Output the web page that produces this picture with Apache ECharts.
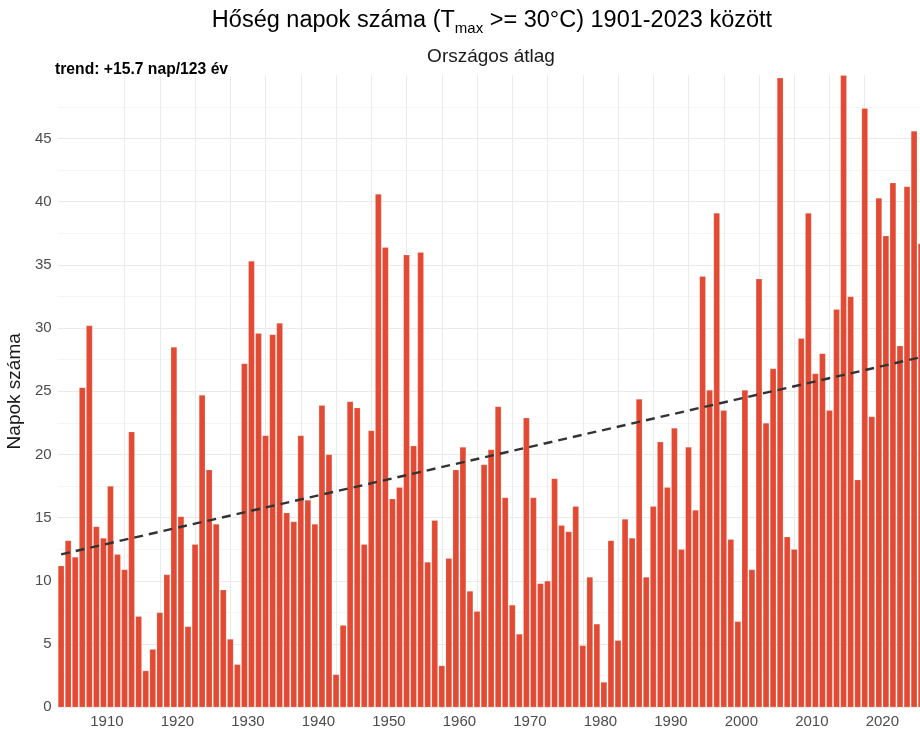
<!DOCTYPE html>
<html>
<head>
<meta charset="utf-8">
<title>Hőség napok száma</title>
<script src="https://cdn.jsdelivr.net/npm/echarts@6/dist/echarts.min.js"></script>
<style>
  html, body { margin: 0; padding: 0; background: #ffffff; }
  #chart { width: 920px; height: 731px; }
</style>
</head>
<body>
<div id="chart"></div>
<script>
// Annual number of hot days (Tmax >= 30 °C), national average, 1901–2023
const firstYear = 1901;
const hotDays = [
  11.2, 13.2, 11.9, 25.3, 30.2, 14.3, 13.4, 17.5, 12.1, 10.9,   // 1901-1910
  21.8,  7.2,  2.9,  4.6,  7.5, 10.5, 28.5, 15.1,  6.4, 12.9,   // 1911-1920
  24.7, 18.8, 14.5,  9.3,  5.4,  3.4, 27.2, 35.3, 29.6, 21.5,   // 1921-1930
  29.5, 30.4, 15.4, 14.7, 21.5, 16.4, 14.5, 23.9, 20.0,  2.6,   // 1931-1940
   6.5, 24.2, 23.7, 12.9, 21.9, 40.6, 36.4, 16.5, 17.4, 35.8,   // 1941-1950
  20.7, 36.0, 11.5, 14.8,  3.3, 11.8, 18.8, 20.6,  9.2,  7.6,   // 1951-1960
  19.2, 20.4, 23.8, 16.6,  8.1,  5.8, 22.9, 16.6,  9.8, 10.0,   // 1961-1970
  18.1, 14.4, 13.9, 15.9,  4.9, 10.3,  6.6,  2.0, 13.2,  5.3,   // 1971-1980
  14.9, 13.4, 24.4, 10.3, 15.9, 21.0, 17.4, 22.1, 12.5, 20.6,   // 1981-1990
  15.6, 34.1, 25.1, 39.1, 23.5, 13.3,  6.8, 25.1, 10.9, 33.9,   // 1991-2000
  22.5, 26.8, 49.8, 13.5, 12.5, 29.2, 39.1, 26.4, 28.0, 23.5,   // 2001-2010
  31.5, 50.0, 32.5, 18.0, 47.4, 23.0, 40.3, 37.3, 41.5, 28.6,   // 2011-2020
  41.2, 45.6, 36.7                                              // 2021-2023
];

// Linear trend endpoints (+15.7 days over 123 years)
const trendLine = [[1901, 12.1], [2023, 27.7]];

// Axis marks
const gridYears = [1905, 1910, 1915, 1920, 1925, 1930, 1935, 1940, 1945, 1950, 1955, 1960,
                   1965, 1970, 1975, 1980, 1985, 1990, 1995, 2000, 2005, 2010, 2015, 2020];
const decadeLabels = [1910, 1920, 1930, 1940, 1950, 1960, 1970, 1980, 1990, 2000, 2010, 2020];

const barData = hotDays.map((v, i) => [firstYear + i, v]);

const FONT = 'Liberation Sans, Arial, sans-serif';
const xMin = 1900.5, xMax = 2022.84;
const labelShift = 2.5;

const chart = echarts.init(document.getElementById('chart'), null, { renderer: 'canvas' });

chart.setOption({
  backgroundColor: '#ffffff',
  animation: false,
  textStyle: { fontFamily: FONT },
  title: [
    {
      text: '{a|Hőség napok száma (T}{s|max}{a| >= 30°C) 1901-2023 között}',
      left: 492, top: 6, textAlign: 'center', padding: 0,
      textStyle: {
        fontWeight: 'normal',
        rich: {
          a: { fontFamily: FONT, fontSize: 23.5, fontWeight: 'normal', color: '#000000', lineHeight: 30, verticalAlign: 'middle' },
          s: { fontFamily: FONT, fontSize: 15, fontWeight: 'normal', color: '#000000', lineHeight: 14, verticalAlign: 'bottom' }
        }
      }
    },
    {
      text: 'Országos átlag',
      left: 491, top: 47, textAlign: 'center', padding: 0,
      textStyle: { fontFamily: FONT, fontSize: 19, fontWeight: 'normal', color: '#1a1a1a' }
    },
    {
      text: 'trend: +15.7 nap/123 év',
      left: 55, top: 62, padding: 0,
      textStyle: { fontFamily: FONT, fontSize: 15.7, fontWeight: 'bold', color: '#000000' }
    }
  ],
  grid: { left: 57.6, right: 0, top: 75.3, bottom: 23.7, outerBoundsMode: 'none', containLabel: false },
  xAxis: [
    {
      type: 'value',
      min: xMin, max: xMax,
      axisLine: { show: false },
      axisTick: { show: false, customValues: gridYears },
      axisLabel: { show: false },
      splitLine: { show: true, showMinLine: false, showMaxLine: false,
                   lineStyle: { color: '#ebebeb', width: 1 } }
    },
    {
      type: 'value',
      position: 'bottom',
      min: xMin + labelShift, max: xMax + labelShift,
      axisLine: { show: false },
      axisTick: { show: false },
      splitLine: { show: false },
      axisLabel: {
        customValues: decadeLabels,
        formatter: (v) => String(v),
        color: '#4d4d4d', fontSize: 15, fontFamily: FONT, margin: 7
      }
    }
  ],
  yAxis: {
    type: 'value',
    min: 0, max: 50, interval: 5,
    name: 'Napok száma',
    nameLocation: 'middle', nameGap: 31, nameRotate: 90,
    nameTextStyle: { fontFamily: FONT, fontSize: 19, color: '#1a1a1a' },
    axisLine: { show: false },
    axisTick: { show: false },
    axisLabel: { color: '#4d4d4d', fontSize: 15, fontFamily: FONT, margin: 6, showMaxLabel: false },
    splitLine: { show: true, showMaxLine: false, lineStyle: { color: '#e9e9e9', width: 1.2 } },
    minorTick: { show: false, splitNumber: 2 },
    minorSplitLine: { show: true, lineStyle: { color: '#f2f2f2', width: 0.8 } }
  },
  series: [
    {
      type: 'bar',
      xAxisIndex: 0,
      data: barData,
      barWidth: 6.3,
      itemStyle: { color: '#E34A33', borderColor: 'rgba(255,255,255,0.35)', borderWidth: 0.5 },
      z: 2
    },
    {
      type: 'line',
      xAxisIndex: 0,
      data: trendLine,
      symbol: 'none',
      clip: true,
      lineStyle: { color: '#333333', width: 2.4, type: [9, 6] },
      z: 3
    }
  ]
});
</script>
</body>
</html>
